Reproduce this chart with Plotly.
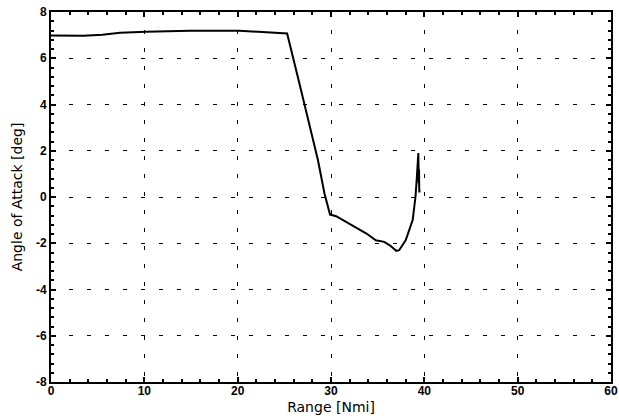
import plotly.graph_objects as go

range_nmi = [0.0, 1.0, 3.5, 5.5, 7.4, 10.2, 14.9, 20.2, 24.5, 25.3,
             26.5, 28.05, 28.6, 29.3, 29.9, 30.55, 32.0, 33.8, 34.8, 35.7,
             36.3, 37.0, 37.3, 38.0, 38.75, 39.05, 39.18, 39.3, 39.36, 39.4,
             39.43, 39.46, 39.5]
aoa_deg = [6.98, 6.97, 6.97, 7.02, 7.1, 7.15, 7.19, 7.19, 7.08, 7.07,
           5.1, 2.53, 1.6, 0.15, -0.76, -0.83, -1.15, -1.58, -1.87, -1.94,
           -2.09, -2.33, -2.3, -1.87, -1.0, 0.0, 0.73, 1.6, 1.9, 0.6,
           1.2, 0.2, 0.3]

x_ticks = [0, 10, 20, 30, 40, 50, 60]
y_ticks = [-8, -6, -4, -2, 0, 2, 4, 6, 8]

fig = go.Figure()
fig.add_trace(go.Scatter(x=range_nmi, y=aoa_deg, mode="lines",
                         line=dict(color="black", width=2), showlegend=False))

axis_common = dict(
    showline=True, linecolor="black", linewidth=2, mirror="allticks",
    ticks="inside", ticklen=5, tickcolor="black", tickwidth=1.5,
    showgrid=True, gridcolor="black", gridwidth=1, griddash="4px,14px",
    zeroline=False, automargin=False,
    tickfont=dict(family="Liberation Sans, Arial", size=12, color="black", weight="bold"),
)

fig.update_xaxes(range=[0, 60], tickvals=x_ticks, ticktext=[str(v) for v in x_ticks],
                 minor=dict(dtick=2, ticks="inside", ticklen=3, tickcolor="black", showgrid=False),
                 ticklabelstandoff=-3,
                 title=dict(text="Range [Nmi]", font=dict(family="DejaVu Sans", size=14, color="black"),
                            standoff=5),
                 **axis_common)
fig.update_yaxes(range=[-8, 8], tickvals=y_ticks, ticktext=[str(v) for v in y_ticks],
                 minor=dict(dtick=0.4, ticks="inside", ticklen=3, tickcolor="black", showgrid=False),
                 title=dict(text="Angle of Attack [deg]", font=dict(family="DejaVu Sans", size=14, color="black"),
                            standoff=10),
                 **axis_common)

fig.update_layout(
    width=619, height=416,
    margin=dict(l=51, r=8, t=12, b=34),
    paper_bgcolor="white", plot_bgcolor="white",
)

fig.write_html("out.html")
